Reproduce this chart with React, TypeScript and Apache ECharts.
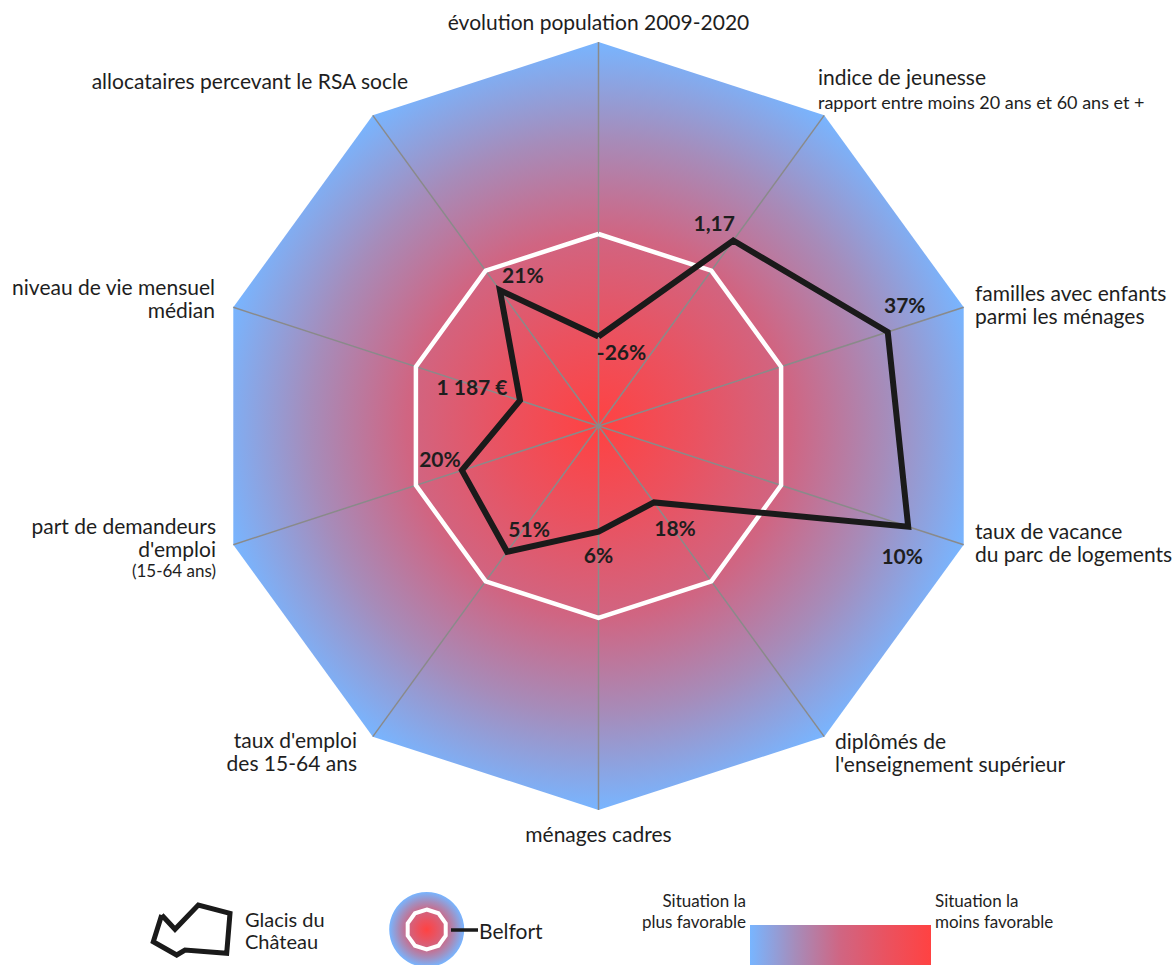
import React, { useEffect, useRef } from "react";
import * as echarts from "echarts";

// ---- data ----
const indicatorNames = [
  "évolution population 2009-2020",
  "indice de jeunesse",
  "familles avec enfants parmi les ménages",
  "taux de vacance du parc de logements",
  "diplômés de l'enseignement supérieur",
  "ménages cadres",
  "taux d'emploi des 15-64 ans",
  "part de demandeurs d'emploi (15-64 ans)",
  "niveau de vie mensuel médian",
  "allocataires percevant le RSA socle",
];
// normalised scores (0 = centre / least favourable, 1 = edge / most favourable)
const glacisScores = [0.233, 0.597, 0.792, 0.848, 0.246, 0.275, 0.405, 0.374, 0.215, 0.437];
const glacisLabels = ["-26%", "1,17", "37%", "10%", "18%", "6%", "51%", "20%", "1 187 €", "21%"];
const belfortScores = [0.5, 0.5, 0.5, 0.5, 0.5, 0.5, 0.5, 0.5, 0.5, 0.5];

// label offsets for value labels (style only)
const labelOffsets: [number, number][] = [
  [23, 15], [-19, -18], [17, -28], [-6, 29], [21, 25],
  [0, 23], [22, -23], [-22, -12], [-48, -14], [23, -16],
];

const FONT = "Lato, 'Noto Sans', sans-serif";
const TXT = "#1e1e1e";

const STOPS_RADIAL = [
  { offset: 0, color: "#ff4242" },
  { offset: 0.25, color: "#ea5260" },
  { offset: 0.5, color: "#d06582" },
  { offset: 0.75, color: "#a68cba" },
  { offset: 1, color: "#78b5ff" },
];

export default function App() {
  const ref = useRef<HTMLDivElement>(null);
  useEffect(() => {
    if (!ref.current) return;
    const chart = echarts.init(ref.current, null, { renderer: "svg" });
    const n = indicatorNames.length;
    const step = 360 / n;
    const toPolar = (arr: number[]) => {
      const pts: any[] = arr.map((v, i) => [v, i * step]);
      pts.push([arr[0], 360]);
      return pts;
    };

    const glacisData: any[] = glacisScores.map((v, i) => ({
      value: [v, i * step],
      label: { offset: labelOffsets[i] },
    }));
    glacisData.push({ value: [glacisScores[0], 360], label: { show: false } });

    const txt = (text: string, x: number, y: number, align: string, size = 21, extra: any = {}) => ({
      type: "text",
      silent: true,
      style: {
        text,
        x,
        y,
        fill: TXT,
        fontFamily: FONT,
        fontSize: size,
        textAlign: align,
        textVerticalAlign: "middle",
        lineHeight: 23,
        ...extra,
      },
    });

    // decagon for legend icon
    const legendDecagon: number[][] = [];
    for (let i = 0; i < 10; i++) {
      const a = Math.PI / 2 - (i * Math.PI * 2) / 10;
      legendDecagon.push([426.7 + 20 * Math.cos(a), 929.5 - 20 * Math.sin(a)]);
    }

    const option: any = {
      animation: false,
      polar: { center: [598.5, 426], radius: 384 },
      angleAxis: { type: "value", min: 0, max: 360, startAngle: 90, clockwise: true, show: false },
      radiusAxis: { type: "value", min: 0, max: 1, show: false },
      series: [
        {
          type: "custom",
          coordinateSystem: "polar",
          silent: true,
          z: 1,
          data: [[1, 0]],
          renderItem: (params: any, api: any) => {
            const c = api.coord([0, 0]);
            const pts: number[][] = [];
            const lines: any[] = [];
            for (let i = 0; i < n; i++) {
              const p = api.coord([1, i * step]);
              pts.push(p);
              lines.push({
                type: "line",
                shape: { x1: c[0], y1: c[1], x2: p[0], y2: p[1] },
                style: { stroke: "#8a8a8a", lineWidth: 1.5 },
              });
            }
            return {
              type: "group",
              children: [
                {
                  type: "polygon",
                  shape: { points: pts },
                  style: {
                    fill: new echarts.graphic.RadialGradient(c[0], c[1], 384, STOPS_RADIAL.map((s) => ({ ...s })), true),
                  },
                },
                ...lines,
              ],
            };
          },
        },
        {
          type: "line",
          name: "Belfort",
          coordinateSystem: "polar",
          data: toPolar(belfortScores),
          symbol: "none",
          silent: true,
          z: 3,
          lineStyle: { color: "#ffffff", width: 4.5, join: "miter" },
        },
        {
          type: "line",
          name: "Glacis du Château",
          coordinateSystem: "polar",
          data: glacisData,
          symbol: "circle",
          symbolSize: 1,
          silent: true,
          z: 4,
          itemStyle: { color: "#1a1a1a" },
          lineStyle: { color: "#1a1a1a", width: 6, join: "miter" },
          label: {
            show: true,
            position: "inside",
            formatter: (p: any) => glacisLabels[p.dataIndex] ?? "",
            fontFamily: FONT,
            fontSize: 21,
            fontWeight: "bold",
            color: TXT,
          },
        },
      ],
      graphic: [
        txt("évolution population 2009-2020", 598.5, 21, "center"),
        txt("indice de jeunesse", 818, 76, "left"),
        txt("rapport entre moins 20 ans et 60 ans et +", 818, 102, "left", 18),
        txt("familles avec enfants\nparmi les ménages", 975, 304, "left"),
        txt("taux de vacance\ndu parc de logements", 975, 542, "left"),
        txt("diplômés de\nl'enseignement supérieur", 835, 752, "left"),
        txt("ménages cadres", 598.5, 833, "center"),
        txt("taux d'emploi\ndes 15-64 ans", 357, 751, "right"),
        txt("part de demandeurs\nd'emploi", 216, 537, "right"),
        txt("(15-64 ans)", 216, 570, "right", 17),
        txt("niveau de vie mensuel\nmédian", 215, 298, "right"),
        txt("allocataires percevant le RSA socle", 408, 80, "right"),
        // legend
        {
          type: "polyline",
          silent: true,
          shape: {
            points: [
              [161.7, 915], [175, 929.3], [198.3, 905], [230, 913.3], [226.7, 953.3],
              [185, 950], [176.7, 955], [153.3, 941.7], [161.7, 915],
            ],
          },
          style: { stroke: "#1a1a1a", lineWidth: 5, fill: null, lineJoin: "miter" },
        },
        txt("Glacis du\nChâteau", 245, 929.5, "left", 20, { lineHeight: 22 }),
        {
          type: "circle",
          silent: true,
          shape: { cx: 426.7, cy: 929.5, r: 37.5 },
          style: {
            fill: new echarts.graphic.RadialGradient(0.5, 0.5, 0.5, STOPS_RADIAL.map((s) => ({ ...s }))),
          },
        },
        {
          type: "polygon",
          silent: true,
          shape: { points: legendDecagon },
          style: { fill: null, stroke: "#ffffff", lineWidth: 4 },
        },
        {
          type: "line",
          silent: true,
          shape: { x1: 451, y1: 930, x2: 478, y2: 930 },
          style: { stroke: "#1a1a1a", lineWidth: 3.5 },
        },
        txt("Belfort", 479, 930, "left", 21),
        {
          type: "rect",
          silent: true,
          shape: { x: 750, y: 925, width: 181, height: 45 },
          style: {
            fill: new echarts.graphic.LinearGradient(
              0, 0, 1, 0,
              STOPS_RADIAL.map((s) => ({ offset: 1 - s.offset, color: s.color })).reverse()
            ),
          },
        },
        txt("Situation la\nplus favorable", 746, 911, "right", 17, { lineHeight: 21 }),
        txt("Situation la\nmoins favorable", 935, 911, "left", 17, { lineHeight: 21 }),
      ],
    };
    chart.setOption(option);
    return () => chart.dispose();
  }, []);
  return <div ref={ref} style={{ position: "absolute", left: 0, top: 0, width: 1176, height: 965 }} />;
}
